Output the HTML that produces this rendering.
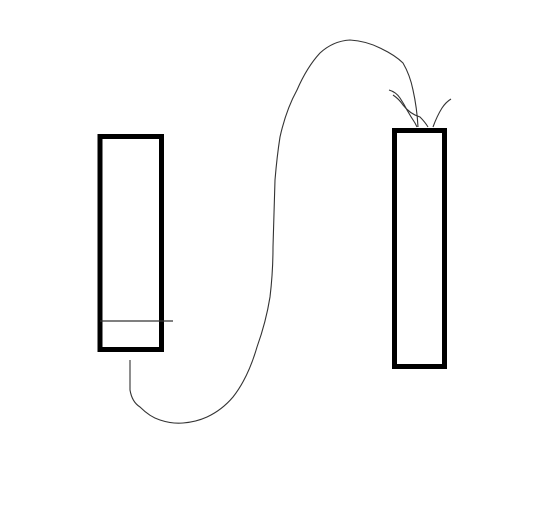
<!DOCTYPE html>
<html><head><meta charset="utf-8"><style>
html,body{margin:0;padding:0;background:#fff;}
svg{display:block;}
</style></head><body>
<svg width="539" height="515" viewBox="0 0 539 515">
<rect x="100" y="136.5" width="61.5" height="213" fill="none" stroke="#000" stroke-width="5"/>
<line x1="100" y1="321" x2="173" y2="321" stroke="#333" stroke-width="1.2"/>
<rect x="394.5" y="130.5" width="50" height="236" fill="none" stroke="#000" stroke-width="5"/>
<path d="M130,360 L130,390 Q132,402 140,407 Q150,417 160,420 Q172,424 183,423 Q196,422 207,417 Q222,410 233,397 Q248,378 257,347 Q266,322 270,297 Q273,272 273,247 Q274,210 275,180 Q277,156 280,137 Q286,110 297,90 Q307,67 320,53 Q333,41 350,40 Q366,41 380,48 Q395,55 403,63 Q410,75 413,90 Q417,108 418,127" fill="none" stroke="#333" stroke-width="1.1"/>
<path d="M389,90 Q396,92 400,98 Q404,104 407,110 Q411,117 415,123 L417,127" fill="none" stroke="#333" stroke-width="1.1"/>
<path d="M393,95 Q399,99 403,105 Q410,114 420,117 Q425,122 428,127" fill="none" stroke="#333" stroke-width="1.1"/>
<path d="M433,127 Q437,116 442,108 Q446,102 451,99" fill="none" stroke="#333" stroke-width="1.1"/>
</svg>
</body></html>
